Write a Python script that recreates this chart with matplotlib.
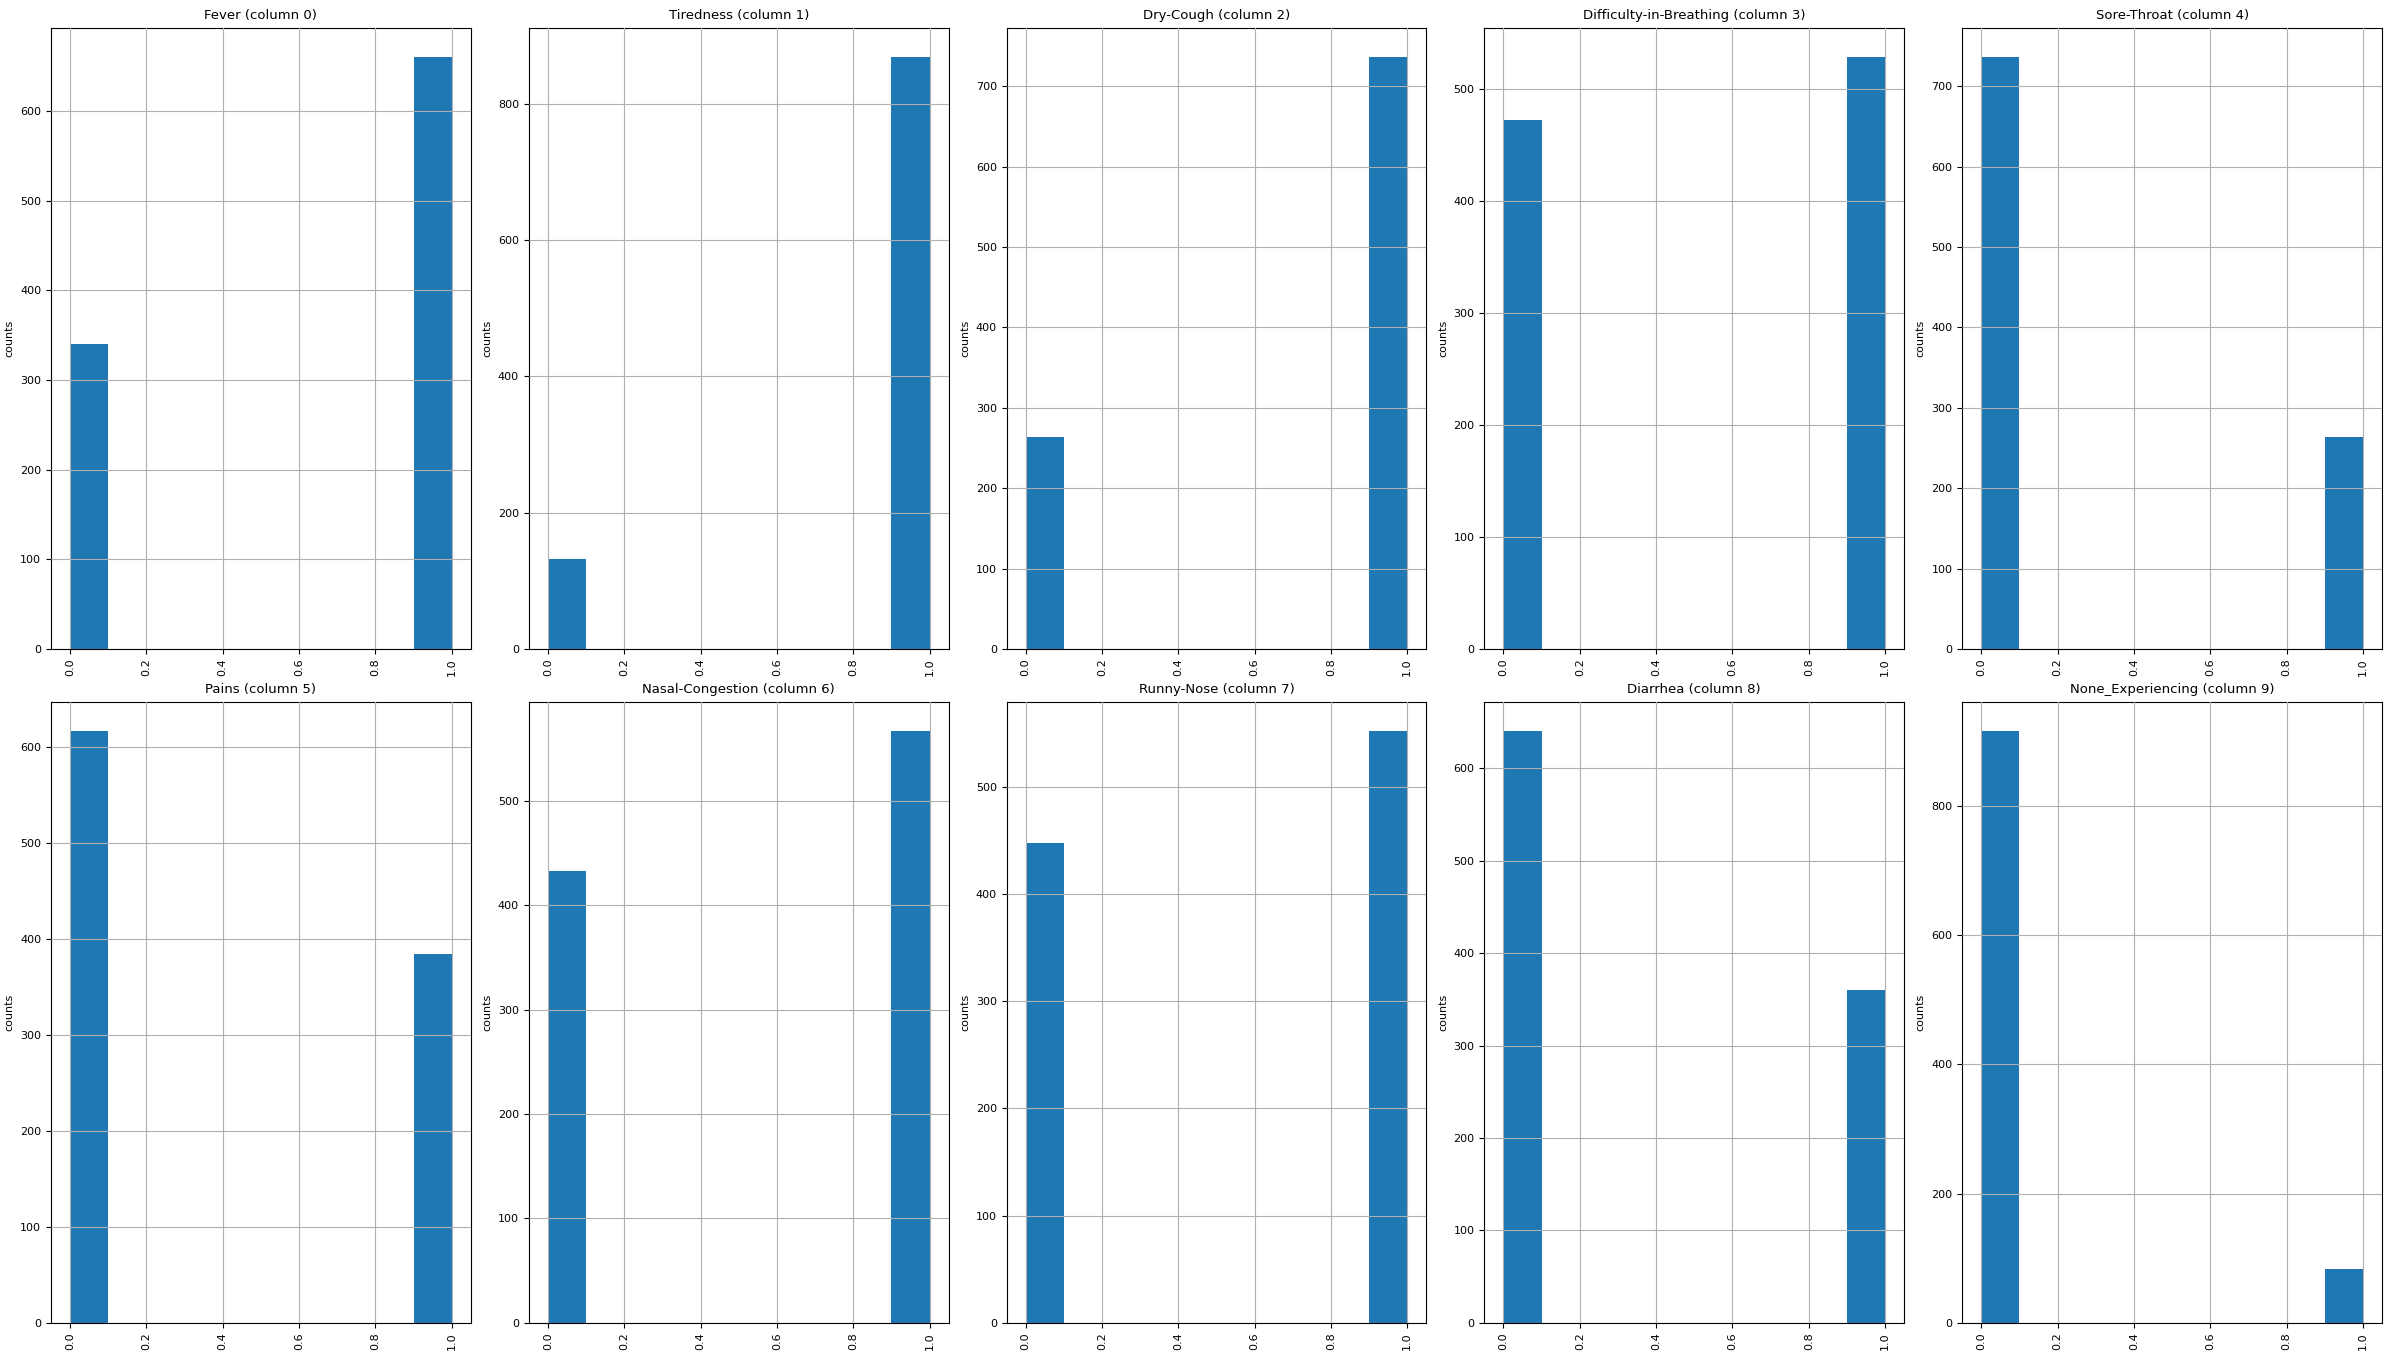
import matplotlib
matplotlib.use("Agg")
import matplotlib.pyplot as plt

# symptom columns and how many rows are 0 / 1 in each
columns = ["Fever", "Tiredness", "Dry-Cough", "Difficulty-in-Breathing",
           "Sore-Throat", "Pains", "Nasal-Congestion", "Runny-Nose",
           "Diarrhea", "None_Experiencing"]
count_0 = [340, 132, 264, 472, 736, 616, 433, 448, 640, 916]
count_1 = [660, 868, 736, 528, 264, 384, 567, 552, 360, 84]
values = [0, 1]

fig, axes = plt.subplots(2, 5, figsize=(23.93, 13.56), dpi=100)
fig.subplots_adjust(left=0.0213, right=0.9954, top=0.9795, bottom=0.0245,
                    wspace=0.138, hspace=0.085)

for i, ax in enumerate(axes.flat):
    ax.hist(values, bins=10, range=(0, 1), weights=[count_0[i], count_1[i]],
            color="#1f77b4")
    ax.grid(True, color="#b0b0b0", linewidth=0.8)
    ax.set_axisbelow(False)
    ax.set_title(f"{columns[i]} (column {i})", fontsize=9.5)
    ax.set_ylabel("counts", fontsize=8)
    ax.tick_params(axis="both", labelsize=8)
    plt.setp(ax.get_xticklabels(), rotation=90)

plt.savefig("out.png", dpi=100)
